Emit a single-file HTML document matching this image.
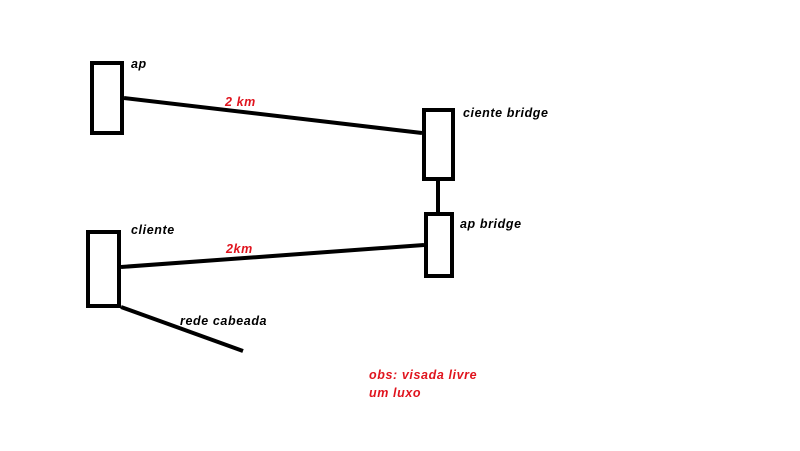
<!DOCTYPE html>
<html><head><style>
body{margin:0;background:#fff;width:800px;height:446px;overflow:hidden}
text{font-family:"Liberation Sans",sans-serif;font-weight:bold;font-style:italic;font-size:12.5px;letter-spacing:0.6px}
</style></head><body>
<svg width="800" height="446" xmlns="http://www.w3.org/2000/svg">
<g fill="none" stroke="#000" stroke-width="4">
<rect x="92" y="63" width="30" height="70"/>
<rect x="424" y="110" width="29" height="69"/>
<rect x="426" y="214" width="26" height="62"/>
<rect x="88" y="232" width="31" height="74"/>
<line x1="124" y1="98" x2="422" y2="133"/>
<line x1="438" y1="181" x2="438" y2="212"/>
<line x1="121" y1="267" x2="424" y2="245"/>
<line x1="121" y1="307" x2="243" y2="351"/>
</g>
<text x="131" y="68">ap</text>
<text x="225" y="106" fill="#e0141e">2 km</text>
<text x="463" y="117">ciente bridge</text>
<text x="460" y="228">ap bridge</text>
<text x="131" y="234">cliente</text>
<text x="226" y="253" fill="#e0141e">2km</text>
<text x="180" y="325">rede cabeada</text>
<text x="369" y="379" fill="#e0141e">obs: visada livre</text>
<text x="369" y="397" fill="#e0141e">um luxo</text>
</svg>
</body></html>
